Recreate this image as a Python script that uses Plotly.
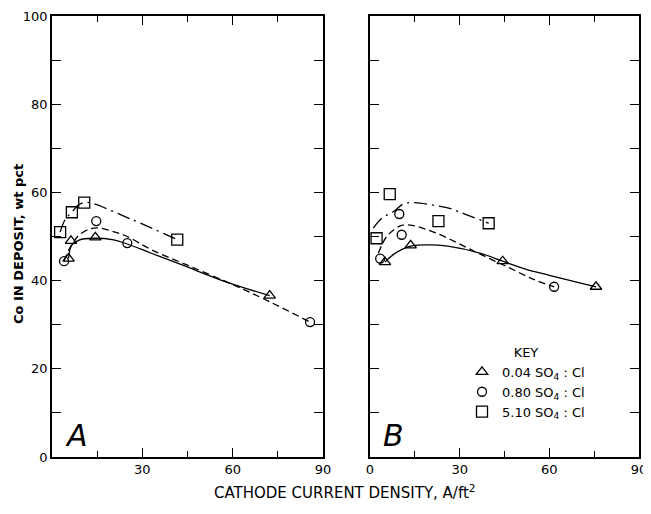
import plotly.graph_objects as go

# ---------------- data ----------------
# Panel A markers
triA_x = [5.5, 6.3, 14.4, 72.3]
triA_y = [45.0, 49.0, 49.8, 36.6]
cirA_x = [4.0, 14.7, 25.0, 85.7]
cirA_y = [44.4, 53.5, 48.5, 30.6]
sqA_x = [2.7, 6.6, 10.7, 41.6]
sqA_y = [51.0, 55.5, 57.7, 49.3]

# Panel A hand-drawn curves
solidA_x = [5.5, 6.5, 9, 14, 20, 25, 33, 43, 57, 72.3]
solidA_y = [45.0, 48.0, 49.2, 49.6, 49.3, 48.3, 46.2, 43.6, 39.9, 36.6]
dashA_x = [4.0, 6, 9, 13, 16, 20, 25, 33, 45, 60, 72, 85.7]
dashA_y = [44.4, 47.5, 50.3, 51.8, 51.9, 51.2, 50.0, 47.0, 43.5, 39.1, 35.3, 30.6]
ddA_x = [2.7, 4.5, 6.6, 8.5, 10.7, 13, 26, 41.6]
ddA_y = [51.0, 54.0, 55.5, 57.0, 57.7, 57.6, 54.0, 49.3]

# Panel B markers
triB_x = [5.0, 13.6, 44.4, 75.6]
triB_y = [44.2, 48.0, 44.4, 38.6]
cirB_x = [3.4, 9.8, 10.6, 61.6]
cirB_y = [45.0, 55.1, 50.4, 38.6]
sqB_x = [2.2, 6.6, 22.9, 39.7]
sqB_y = [49.6, 59.6, 53.5, 53.0]

# Panel B hand-drawn curves
solidB_x = [5.0, 8, 13.6, 20, 26, 37, 44.4, 52, 60, 75.6]
solidB_y = [44.2, 46.0, 47.8, 48.1, 47.8, 46.2, 44.4, 42.6, 41.2, 38.6]
dashB_x = [2.8, 5.6, 10.1, 13.4, 22.4, 35, 46, 55, 61.6]
dashB_y = [46.2, 50.0, 52.4, 52.6, 50.7, 46.6, 43.1, 40.2, 38.6]
ddB_x = [1.1, 4, 7.8, 11.2, 15, 21.2, 27, 32.4, 39.7]
ddB_y = [51.9, 54.2, 55.6, 57.4, 57.7, 57.1, 56.3, 54.9, 53.0]

series_names = ["0.04 SO<sub>4</sub> : Cl", "0.80 SO<sub>4</sub> : Cl", "5.10 SO<sub>4</sub> : Cl"]
x_ticks = [0, 30, 60, 90]
y_ticks = [0, 20, 40, 60, 80, 100]

FONT = "DejaVu Sans"
BLACK = "black"
DASH = "7px,4px"
DASHDOT = "13px,5px,2px,5px"

fig = go.Figure()

def curve(x, y, dash, xa, ya):
    fig.add_trace(go.Scatter(x=x, y=y, mode="lines", xaxis=xa, yaxis=ya,
                             line=dict(color=BLACK, width=1.3, dash=dash, shape="spline", smoothing=1.0),
                             showlegend=False, hoverinfo="skip"))

def marks(x, y, symbol, size, xa, ya, name, show):
    fig.add_trace(go.Scatter(x=x, y=y, mode="markers", xaxis=xa, yaxis=ya, name=name,
                             marker=dict(symbol=symbol, size=size, color=BLACK,
                                         line=dict(color=BLACK, width=1.3)),
                             showlegend=show))

# Panel A
curve(solidA_x, solidA_y, "solid", "x", "y")
curve(dashA_x, dashA_y, DASH, "x", "y")
curve(ddA_x, ddA_y, DASHDOT, "x", "y")
marks(triA_x, triA_y, "triangle-up-open", 10, "x", "y", series_names[0], True)
marks(cirA_x, cirA_y, "circle-open", 9, "x", "y", series_names[1], True)
marks(sqA_x, sqA_y, "square-open", 11, "x", "y", series_names[2], True)

# Panel B
curve(solidB_x, solidB_y, "solid", "x2", "y2")
curve(dashB_x, dashB_y, DASH, "x2", "y2")
curve(ddB_x, ddB_y, DASHDOT, "x2", "y2")
marks(triB_x, triB_y, "triangle-up-open", 10, "x2", "y2", series_names[0], False)
marks(cirB_x, cirB_y, "circle-open", 9, "x2", "y2", series_names[1], False)
marks(sqB_x, sqB_y, "square-open", 11, "x2", "y2", series_names[2], False)

# page body adds an 8px margin, so the figure is sized to fill the window after it
OFF = 8
W, H = 651 - OFF, 514 - OFF

def fx(p):
    return (p - OFF) / W

def fy(p):
    return 1 - (p - OFF) / H

ydom = [fy(457), fy(16)]

axis_common = dict(showline=True, linecolor=BLACK, linewidth=1.5, mirror="allticks",
                   ticks="inside", tickcolor=BLACK, tickwidth=1.3, showgrid=False,
                   zeroline=False, automargin=False, ticklabeloverflow="allow",
                   tickfont=dict(family=FONT, size=13, color=BLACK))

xa = dict(axis_common, range=[0, 90], tickvals=x_ticks, ticklen=9,
          minor=dict(dtick=15, tick0=0, ticks="inside", ticklen=6, tickcolor=BLACK, tickwidth=1.3, showgrid=False))
ya = dict(axis_common, range=[0, 100], tickvals=y_ticks, ticklen=9,
          minor=dict(dtick=10, tick0=0, ticks="inside", ticklen=9, tickcolor=BLACK, tickwidth=1.3, showgrid=False))

fig.update_layout(
    width=W, height=H,
    margin=dict(l=0, r=0, t=0, b=0, pad=0, autoexpand=False),
    paper_bgcolor="white", plot_bgcolor="white",
    xaxis=dict(xa, domain=[fx(52), fx(323)], anchor="y",
               ticktext=["", "30", "60", "90"]),
    yaxis=dict(ya, domain=ydom, anchor="x", ticktext=[str(v) for v in y_ticks]),
    xaxis2=dict(xa, domain=[fx(370), fx(639)], anchor="y2",
                ticktext=[str(v) for v in x_ticks]),
    yaxis2=dict(ya, domain=ydom, anchor="x2", showticklabels=False),
    legend=dict(x=fx(462), y=fy(340), xanchor="left", yanchor="top",
                bgcolor="rgba(0,0,0,0)", font=dict(family=FONT, size=13, color=BLACK),
                title=dict(text="KEY", side="top center", font=dict(family=FONT, size=13, color=BLACK)),
                tracegroupgap=0, itemwidth=30),
    showlegend=True,
    annotations=[
        dict(text="<b>Co IN DEPOSIT, wt pct</b>", xref="paper", yref="paper", x=fx(18), y=fy(244),
             xanchor="center", yanchor="middle",
             textangle=-90, showarrow=False, font=dict(family=FONT, size=13, color=BLACK)),
        dict(text="CATHODE CURRENT DENSITY, A/ft<sup>2</sup>", xref="paper", yref="paper",
             x=fx(345), y=fy(492), xanchor="center", yanchor="middle",
             showarrow=False, font=dict(family=FONT, size=15, color=BLACK)),
        dict(text="<i>A</i>", xref="paper", yref="paper", x=fx(76), y=fy(435), showarrow=False,
             xanchor="center", yanchor="middle", font=dict(family=FONT, size=30, color=BLACK)),
        dict(text="<i>B</i>", xref="paper", yref="paper", x=fx(393), y=fy(435), showarrow=False,
             xanchor="center", yanchor="middle", font=dict(family=FONT, size=30, color=BLACK)),
    ],
)

fig.write_html("out.html")
